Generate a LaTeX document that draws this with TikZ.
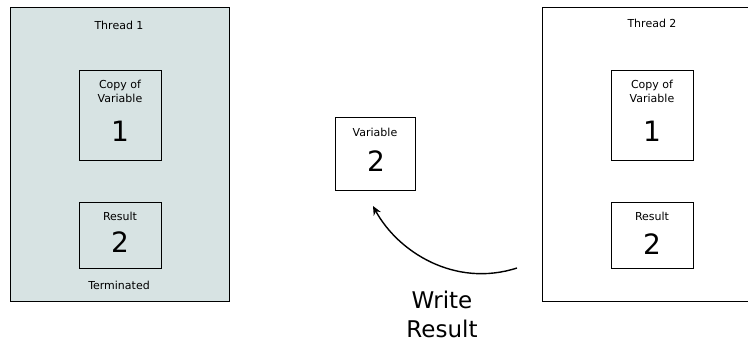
\documentclass[tikz,border=0pt]{standalone}
\usepackage{fontspec}
\setmainfont{DejaVu Sans}
\usetikzlibrary{arrows.meta}
\definecolor{threadfill}{HTML}{D7E3E3}
\begin{document}
\begin{tikzpicture}[x=1pt,y=-1pt,
  frame/.style={draw=black,line width=1.4pt},
  small/.style={font=\fontsize{11}{14}\selectfont,align=center,inner sep=0pt},
  big/.style={font=\fontsize{28}{30}\selectfont,inner sep=0pt},
  mid/.style={font=\fontsize{23}{29}\selectfont,align=center,inner sep=0pt}]
\clip (0,0) rectangle (748,345);
\fill[white] (0,0) rectangle (748,345);
% Thread 1
\node[frame,fill=threadfill,minimum width=219pt,minimum height=294pt,anchor=north west,inner sep=0pt] (t1) at (10,7) {};
\node[small] (t1lab) at (119,25) {Thread 1};
\node[frame,minimum width=82pt,minimum height=90pt,anchor=north west,inner sep=0pt] (c1) at (79,70) {};
\node[small] (c1lab) at (120,91) {Copy of\\Variable};
\node[big] (c1val) at (120,131) {1};
\node[frame,minimum width=82pt,minimum height=66pt,anchor=north west,inner sep=0pt] (r1) at (79,202) {};
\node[small] (r1lab) at (120,216) {Result};
\node[big] (r1val) at (120,242) {2};
\node[small] (term) at (119,285) {Terminated};
% Thread 2
\node[frame,minimum width=220pt,minimum height=294pt,anchor=north west,inner sep=0pt] (t2) at (542,7) {};
\node[small] (t2lab) at (652,23) {Thread 2};
\node[frame,minimum width=82pt,minimum height=90pt,anchor=north west,inner sep=0pt] (c2) at (611,70) {};
\node[small] (c2lab) at (652,91) {Copy of\\Variable};
\node[big] (c2val) at (652,131) {1};
\node[frame,minimum width=82pt,minimum height=66pt,anchor=north west,inner sep=0pt] (r2) at (611,202) {};
\node[small] (r2lab) at (652,216) {Result};
\node[big] (r2val) at (652,244) {2};
% Shared variable
\node[frame,minimum width=80pt,minimum height=73pt,anchor=north west,inner sep=0pt] (v) at (335,117) {};
\node[small] (vlab) at (375,132) {Variable};
\node[big] (vval) at (376,161) {2};
% Arrow
\coordinate (from) at (517,268);
\coordinate (to) at (373,206);
\draw[line width=1.4pt,-{Stealth[length=9pt,width=8pt]}] (from) .. controls (455,288) and (398,252) .. (to);
\node[mid] (wr) at (442,314) {Write\\Result};
\end{tikzpicture}
\end{document}
